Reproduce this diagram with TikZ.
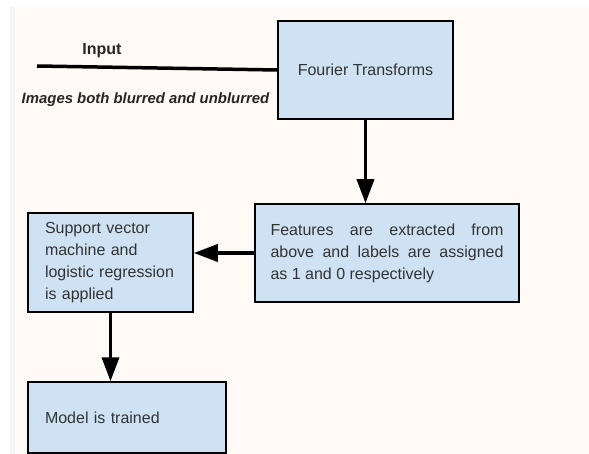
\documentclass[tikz,border=0pt]{standalone}
\usepackage{fontspec}
\setmainfont{Liberation Sans}
\usetikzlibrary{arrows.meta}
\definecolor{boxblue}{HTML}{CFE2F3}
\definecolor{paper}{HTML}{FFFAF6}
\definecolor{edgestrip}{HTML}{F3F5F9}
\definecolor{ink}{HTML}{333333}
\tikzset{
  box/.style={draw=black, line width=1.5pt, fill=boxblue, text=ink, inner sep=0pt,
    font=\fontsize{16}{22}\selectfont},
  flow/.style={-{Triangle[length=24pt,width=17pt]}, line width=3.5pt},
}

\begin{document}
\begin{tikzpicture}[x=1pt, y=-1pt]
% page
\fill[white] (0,0) rectangle (589,454);
\fill[edgestrip] (10,7) rectangle (15,454);
\fill[paper] (15,7) rectangle (589,454);
\useasboundingbox (0,0) rectangle (589,454);

% boxes
\node[box, minimum width=175pt, minimum height=98pt] (fourier) at (365.5,70) {Fourier Transforms};
\node[box, minimum width=264pt, minimum height=98pt, text width=233pt, align=justify] (features) at (387,253)
  {Features are extracted from above and labels are assigned as 1 and 0 respectively};
\node[box, minimum width=165pt, minimum height=99pt, text width=131pt, align=left] (svm) at (110.5,262.5)
  {Support vector\\ machine and\\ logistic regression\\ is applied};
\node[box, minimum width=198pt, minimum height=71pt, text width=164pt, align=left] (model) at (127,417.5)
  {Model is trained};

% input
\coordinate (inputend) at (37,66);
\draw[line width=3.5pt] (inputend) -- (fourier.west);
\node[font=\bfseries\fontsize{16}{19}\selectfont, text=black!85] (inputlabel) at (102,51) {Input};
\node[font=\bfseries\itshape\fontsize{14.9}{18}\selectfont, text=black!85] (imageslabel) at (145.5,100)
  {Images both blurred and unblurred};

% flow
\draw[flow] (fourier.south) -- (fourier.south |- features.north);
\draw[flow] (features.west) -- (features.west -| svm.east);
\draw[flow] (svm.south) -- (svm.south |- model.north);
\end{tikzpicture}
\end{document}
